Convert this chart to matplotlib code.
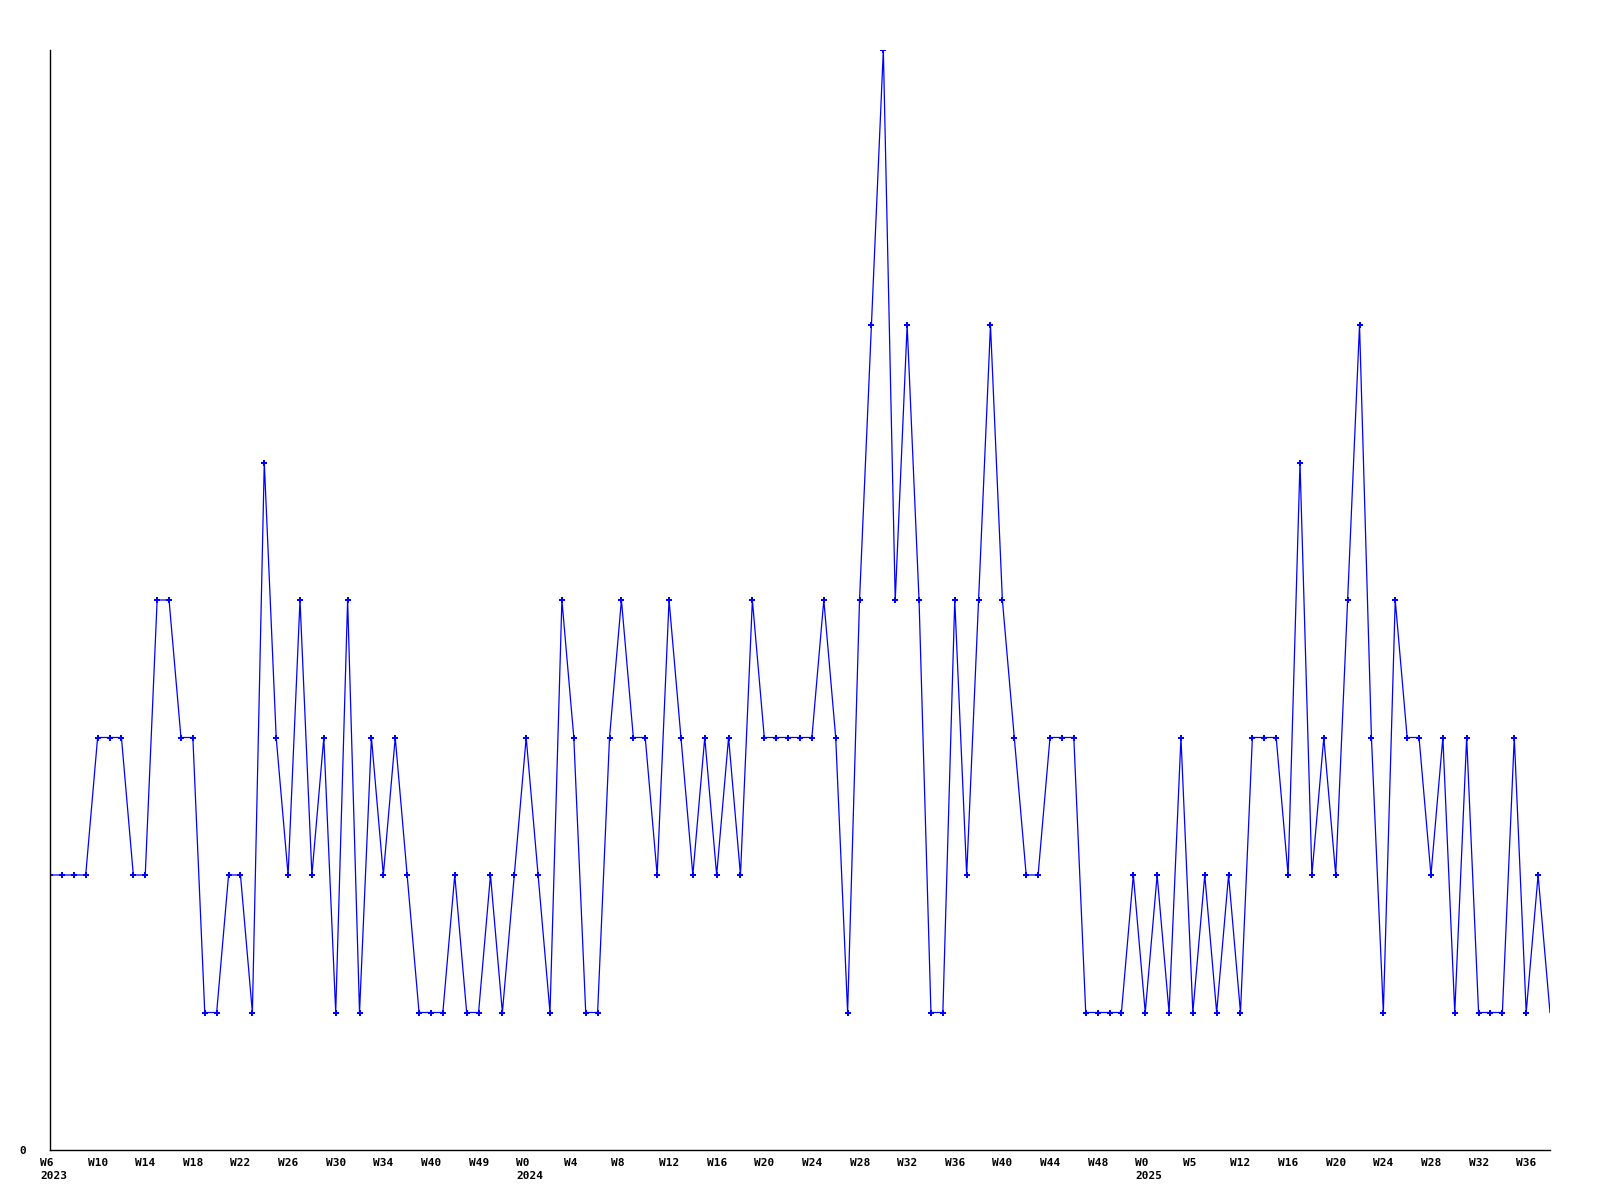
import numpy as np
import matplotlib
matplotlib.use("Agg")
import matplotlib.pyplot as plt
from matplotlib.transforms import ScaledTranslation

# weekly counts, W6 2023 .. W37 2025
counts = [2, 2, 2, 2, 3, 3, 3, 2, 2, 4, 4, 3, 3, 1, 1, 2, 2, 1, 5, 3,
          2, 4, 2, 3, 1, 4, 1, 3, 2, 3, 2, 1, 1, 1, 2, 1, 1, 2, 1, 2,
          3, 2, 1, 4, 3, 1, 1, 3, 4, 3, 3, 2, 4, 3, 2, 3, 2, 3, 2, 4,
          3, 3, 3, 3, 3, 4, 3, 1, 4, 6, 8, 4, 6, 4, 1, 1, 4, 2, 4, 6,
          4, 3, 2, 2, 3, 3, 3, 1, 1, 1, 1, 2, 1, 2, 1, 3, 1, 2, 1, 2,
          1, 3, 3, 3, 2, 5, 2, 3, 2, 4, 6, 3, 1, 4, 3, 3, 2, 3, 1, 3,
          1, 1, 1, 3, 1, 2, 1]

tick_labels = ["W6\n2023", "W10", "W14", "W18", "W22", "W26", "W30", "W34", "W40", "W49",
               "W0\n2024", "W4", "W8", "W12", "W16", "W20", "W24", "W28", "W32", "W36",
               "W40", "W44", "W48",
               "W0\n2025", "W5", "W12", "W16", "W20", "W24", "W28", "W32", "W36"]

x = np.arange(len(counts))

fig = plt.figure(figsize=(16, 12), dpi=100)
ax = fig.add_axes([50/1600, 50/1200, 1500/1600, 1100/1200])

ax.plot(x, counts, color="#0000ff", linewidth=0.9)
ax.plot(x[:-1], counts[:-1], linestyle="none", marker="P", markersize=4,
        color="#0000ff", markeredgewidth=0)

ax.set_xlim(0, len(counts) - 1)
ax.set_ylim(0, 8)

for s in ["top", "right"]:
    ax.spines[s].set_visible(False)
for s in ["left", "bottom"]:
    ax.spines[s].set_color("black")
    ax.spines[s].set_linewidth(1.0)

font = dict(family="DejaVu Sans Mono", weight="bold", size=8)
ax.set_xticks(x[::4])
ax.set_xticklabels(tick_labels, ha="left", va="top", linespacing=1.3, **font)
ax.set_yticks([0])
ax.set_yticklabels(["0"], **font)
ax.tick_params(axis="x", length=0, pad=6)
ax.tick_params(axis="y", length=0, pad=17)

shift = ScaledTranslation(-10/100, 0, fig.dpi_scale_trans)
for lab in ax.get_xticklabels():
    lab.set_transform(lab.get_transform() + shift)

fig.savefig("out.png", dpi=100)
